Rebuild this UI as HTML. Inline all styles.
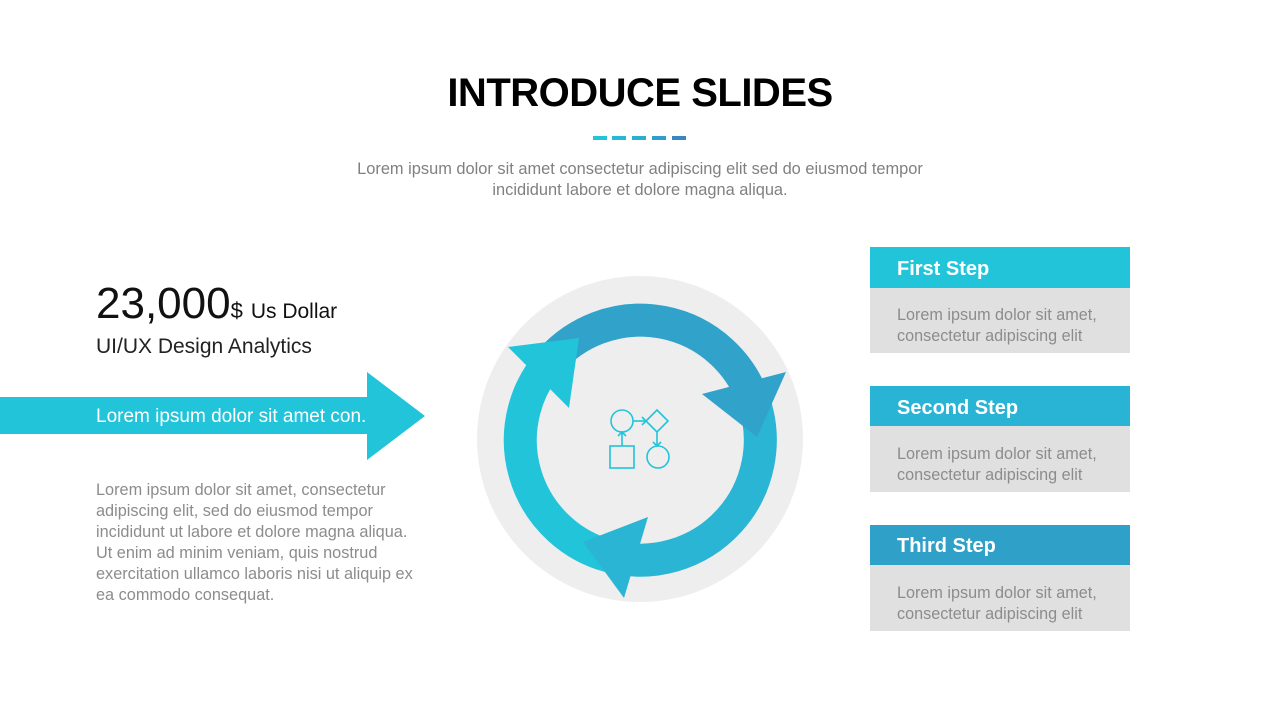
<!DOCTYPE html>
<html><head><meta charset="utf-8"><style>
html,body{margin:0;padding:0;background:#fff;}
svg{display:block;}
text{font-family:"Liberation Sans",sans-serif;}
</style></head><body>
<svg width="1280" height="720" viewBox="0 0 1280 720" xmlns="http://www.w3.org/2000/svg">
<rect width="1280" height="720" fill="#fff"/>
<text x="640" y="106" text-anchor="middle" font-size="40" font-weight="bold" fill="#000" letter-spacing="-0.5">INTRODUCE SLIDES</text>
<rect x="593" y="136" width="14" height="4" fill="#22c4da"/>
<rect x="612" y="136" width="14" height="4" fill="#26b8d6"/>
<rect x="632" y="136" width="14" height="4" fill="#2aaed1"/>
<rect x="652" y="136" width="14" height="4" fill="#2f9ecb"/>
<rect x="672" y="136" width="14" height="4" fill="#3b85c1"/>
<text x="640" y="174" text-anchor="middle" font-size="16.4" fill="#808080">Lorem ipsum dolor sit amet consectetur adipiscing elit sed do eiusmod tempor</text>
<text x="640" y="195" text-anchor="middle" font-size="16.4" fill="#808080">incididunt labore et dolore magna aliqua.</text>

<text x="96" y="318" font-size="44" fill="#111">23,000<tspan font-size="22">$</tspan><tspan font-size="21" dx="8">Us Dollar</tspan></text>
<text x="96" y="353" font-size="21" fill="#222">UI/UX Design Analytics</text>
<polygon points="0,397 367,397 367,372 425,416 367,460 367,434 0,434" fill="#22c4da"/>
<text x="96" y="422" font-size="19" fill="#fff">Lorem ipsum dolor sit amet con.</text>
<g font-size="16.3" fill="#8c8c8c">
<text x="96" y="495">Lorem ipsum dolor sit amet, consectetur</text>
<text x="96" y="516">adipiscing elit, sed do eiusmod tempor</text>
<text x="96" y="537">incididunt ut labore et dolore magna aliqua.</text>
<text x="96" y="558">Ut enim ad minim veniam, quis nostrud</text>
<text x="96" y="579">exercitation ullamco laboris nisi ut aliquip ex</text>
<text x="96" y="600">ea commodo consequat.</text>
</g>

<circle cx="640" cy="439" r="163" fill="#eeeeee"/>
<g fill="none" stroke-width="33">
<path d="M609,556 A120,120 0 0 1 551,360" stroke="#22c4da"/>
<path d="M551,360 A120,120 0 0 1 753,399" stroke="#31a2c9"/>
<path d="M753,399 A120,120 0 0 1 609,556" stroke="#2ab5d4"/>
</g>
<polygon points="508,347 579,338 569,408" fill="#22c4da"/>
<polygon points="786,372 702,394 757,437" fill="#31a2c9"/>
<polygon points="624,598 648,517 583,542" fill="#2ab5d4"/>

<g fill="none" stroke="#22c4da" stroke-width="1.6">
<circle cx="622" cy="421" r="11"/>
<rect x="610" y="446" width="24" height="22"/>
<polygon points="657,410 668,421 657,432 646,421"/>
<circle cx="658" cy="457" r="11"/>
<line x1="633" y1="421" x2="646" y2="421"/>
<polyline points="642,417 646,421 642,425"/>
<line x1="622" y1="446" x2="622" y2="432"/>
<polyline points="618,436 622,432 626,436"/>
<line x1="657" y1="432" x2="657" y2="446"/>
<polyline points="653,442 657,446 661,442"/>
</g>

<g>
<rect x="870" y="247" width="260" height="41" fill="#22c4da"/>
<rect x="870" y="288" width="260" height="65" fill="#e0e0e0"/>
<text x="897" y="275" font-size="20" font-weight="bold" fill="#fff">First Step</text>
<text x="897" y="320" font-size="16.2" fill="#8c8c8c">Lorem ipsum dolor sit amet,</text>
<text x="897" y="341" font-size="16.2" fill="#8c8c8c">consectetur adipiscing elit</text>

<rect x="870" y="386" width="260" height="40" fill="#29b3d4"/>
<rect x="870" y="426" width="260" height="66" fill="#e0e0e0"/>
<text x="897" y="414" font-size="20" font-weight="bold" fill="#fff">Second Step</text>
<text x="897" y="459" font-size="16.2" fill="#8c8c8c">Lorem ipsum dolor sit amet,</text>
<text x="897" y="480" font-size="16.2" fill="#8c8c8c">consectetur adipiscing elit</text>

<rect x="870" y="525" width="260" height="40" fill="#2fa0c8"/>
<rect x="870" y="565" width="260" height="66" fill="#e0e0e0"/>
<text x="897" y="552" font-size="20" font-weight="bold" fill="#fff">Third Step</text>
<text x="897" y="598" font-size="16.2" fill="#8c8c8c">Lorem ipsum dolor sit amet,</text>
<text x="897" y="619" font-size="16.2" fill="#8c8c8c">consectetur adipiscing elit</text>
</g>
</svg>
</body></html>
